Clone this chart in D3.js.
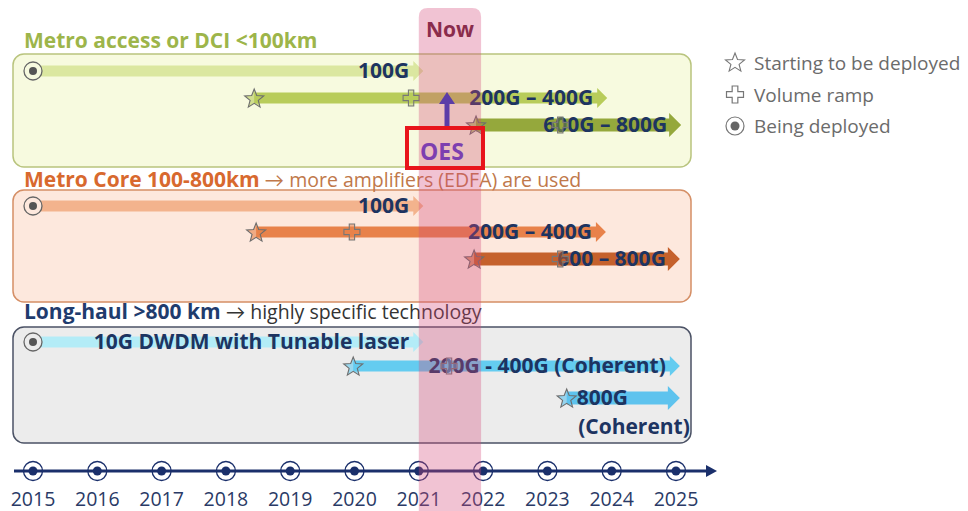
<!DOCTYPE html>
<html>
<head>
<meta charset="utf-8">
<script src="https://cdn.jsdelivr.net/npm/d3@7"></script>
<style>
  body { margin: 0; background: #fff; }
  svg { font-family: "Open Sans", Lato, sans-serif; }
</style>
</head>
<body>
<script>
var years = [2015, 2016, 2017, 2018, 2019, 2020, 2021, 2022, 2023, 2024, 2025];

var panelTitles = ["Metro access or DCI <100km", "Metro Core 100-800km", "Long-haul >800 km"];
var panelNotes = ["", " \u2192 more amplifiers (EDFA) are used", " \u2192 highly specific technology"];

var trackPanel  = [0, 0, 0, 1, 1, 1, 2, 2, 2];
var trackStart  = [2015, 2018.44, 2021.89, 2015, 2018.47, 2021.86, 2015, 2019.98, 2023.3];
var trackEnd    = [2021.07, 2023.93, 2025.08, 2021.07, 2023.91, 2025.06, 2021.07, 2025.06, 2025.06];
var trackBegin  = ["circle", "star", "star", "circle", "star", "star", "circle", "star", "star"];
var trackRamp   = [null, 2020.88, 2023.2, null, 2019.96, 2023.2, null, 2021.47, null];
var trackLabels = ["100G", "200G \u2013 400G", "600G \u2013 800G",
                   "100G", "200G \u2013 400G", "600 \u2013 800G",
                   "10G DWDM with Tunable laser", "200G - 400G (Coherent)", "800G|(Coherent)"];

var nowStart = 2021, nowEnd = 2022;
var legendItems = ["Starting to be deployed", "Volume ramp", "Being deployed"];

//layout
var width = 968, height = 511;

var svg = d3.select("body").append("svg")
    .attr("width", width)
    .attr("height", height);

var x = d3.scaleLinear().domain([2015, 2025]).range([33, 676]);

var panelBox = [{y: 54, h: 113}, {y: 190, h: 112}, {y: 327, h: 116}];
var panelTitleY = [48, 187, 319];
var panelFill = ["#f7fadf", "#fde8dd", "#ececec"];
var panelStroke = ["#b9c47e", "#d58f66", "#4b5265"];
var titleColor = ["#9db54a", "#d8692e", "#1f3c6e"];
var noteColor = ["#9db54a", "#c0784a", "#333"];
var rowY = [71, 98, 125, 206, 232, 259, 342, 366, 398];
var barColor = ["#dbe7a0", "#b8cc5a", "#95a83c", "#f3b38d", "#e8824a", "#c5612c", "#b3ecf7", "#64ccf0", "#5ec3ee"];

//panels
svg.selectAll(".panel")
    .data(panelBox)
    .enter()
    .append("rect")
    .attr("class", "panel")
    .attr("x", 13)
    .attr("y", function(d){ return d.y; })
    .attr("width", 678)
    .attr("height", function(d){ return d.h; })
    .attr("rx", 11)
    .attr("fill", function(d, i){ return panelFill[i]; })
    .attr("stroke", function(d, i){ return panelStroke[i]; })
    .attr("stroke-width", 1.5);

var titles = svg.selectAll(".ptitle")
    .data(panelTitles)
    .enter()
    .append("text")
    .attr("class", "ptitle")
    .attr("x", 24)
    .attr("y", function(d, i){ return panelTitleY[i]; });
titles.append("tspan")
    .attr("font-size", 21)
    .attr("font-weight", "bold")
    .attr("fill", function(d, i){ return titleColor[i]; })
    .text(function(d){ return d; });
titles.append("tspan")
    .attr("font-size", 19.5)
    .attr("fill", function(d, i){ return noteColor[i]; })
    .text(function(d, i){ return panelNotes[i]; });

//arrow shape: bar + head
function arrowPath(x0, x1, y, bh, hh, hl){
    return "M" + x0 + "," + (y - bh/2) +
        "L" + (x1 - hl) + "," + (y - bh/2) +
        "L" + (x1 - hl) + "," + (y - hh/2) +
        "L" + x1 + "," + y +
        "L" + (x1 - hl) + "," + (y + hh/2) +
        "L" + (x1 - hl) + "," + (y + bh/2) +
        "L" + x0 + "," + (y + bh/2) + "Z";
}

function starPath(r, r2){
    var pts = [];
    for (var k = 0; k < 10; k++){
        var a = -Math.PI/2 + k*Math.PI/5;
        var rr = k % 2 ? r2 : r;
        pts.push([rr*Math.cos(a), rr*Math.sin(a)]);
    }
    return "M" + pts.join("L") + "Z";
}

function crossPath(s){
    var a = s/2, b = s/6;
    return "M" + [[-b,-a],[b,-a],[b,-b],[a,-b],[a,b],[b,b],[b,a],[-b,a],[-b,b],[-a,b],[-a,-b],[-b,-b]].join("L") + "Z";
}

var idx = d3.range(trackPanel.length);

var tracks = svg.selectAll(".track")
    .data(idx)
    .enter()
    .append("g")
    .attr("class", "track");

tracks.append("path")
    .attr("d", function(i){
        var big = i % 3 == 2;
        return arrowPath(x(trackStart[i]), x(trackEnd[i]), rowY[i], big ? 13 : 11, big ? 24 : 20, big ? 12 : 10);
    })
    .attr("fill", function(i){ return barColor[i]; });

//markers at start
tracks.filter(function(i){ return trackBegin[i] == "star"; })
    .append("path")
    .attr("transform", function(i){ return "translate(" + x(trackStart[i]) + "," + (rowY[i] + 1) + ")"; })
    .attr("d", starPath(10, 4.3))
    .attr("fill", function(i){ return barColor[i]; })
    .attr("fill-opacity", 0.6)
    .attr("stroke", "#6d6d6d")
    .attr("stroke-width", 1.1);

var circ = tracks.filter(function(i){ return trackBegin[i] == "circle"; });
circ.append("circle")
    .attr("cx", function(i){ return x(trackStart[i]); })
    .attr("cy", function(i){ return rowY[i]; })
    .attr("r", 9)
    .attr("fill", function(i){ return panelFill[trackPanel[i]]; })
    .attr("stroke", "#666")
    .attr("stroke-width", 1.3);
circ.append("circle")
    .attr("cx", function(i){ return x(trackStart[i]); })
    .attr("cy", function(i){ return rowY[i]; })
    .attr("r", 4)
    .attr("fill", "#555");

//labels
tracks.each(function(i){
    var g = d3.select(this);
    var parts = trackLabels[i].split("|");
    if (parts.length > 1){
        g.append("text")
            .attr("x", x(trackStart[i]) + 10)
            .attr("y", rowY[i] + 7)
            .attr("font-size", 21)
            .attr("font-weight", "bold")
            .attr("fill", "#1d3461")
            .text(parts[0]);
        g.append("text")
            .attr("x", x(trackEnd[i]) + 10)
            .attr("y", rowY[i] + 36)
            .attr("text-anchor", "end")
            .attr("font-size", 21)
            .attr("font-weight", "bold")
            .attr("fill", "#1d3461")
            .text(parts[1]);
    } else {
        g.append("text")
            .attr("x", x(trackEnd[i]) - 14)
            .attr("y", rowY[i] + 7)
            .attr("text-anchor", "end")
            .attr("font-size", 21)
            .attr("font-weight", "bold")
            .attr("fill", "#1d3461")
            .text(parts[0]);
    }
});

//volume ramp markers
tracks.filter(function(i){ return trackRamp[i] != null; })
    .append("path")
    .attr("transform", function(i){ return "translate(" + x(trackRamp[i]) + "," + rowY[i] + ")"; })
    .attr("d", crossPath(16))
    .attr("fill", function(i){ return barColor[i]; })
    .attr("fill-opacity", 0.5)
    .attr("stroke", "#777")
    .attr("stroke-width", 1.1);

//timeline axis
var axisY = 471;
svg.append("line")
    .attr("x1", 14).attr("x2", 708)
    .attr("y1", axisY).attr("y2", axisY)
    .attr("stroke", "#1a2f6b")
    .attr("stroke-width", 3);
svg.append("path")
    .attr("d", "M706," + (axisY - 6) + "L717," + axisY + "L706," + (axisY + 6) + "Z")
    .attr("fill", "#1a2f6b");

var ticks = svg.selectAll(".tick")
    .data(years)
    .enter()
    .append("g")
    .attr("class", "tick")
    .attr("transform", function(d){ return "translate(" + x(d) + "," + axisY + ")"; });
ticks.append("circle")
    .attr("r", 9.5)
    .attr("fill", "none")
    .attr("stroke", "#1a2f6b")
    .attr("stroke-width", 1.3);
ticks.append("circle")
    .attr("r", 4.5)
    .attr("fill", "#1a2f6b");
ticks.append("text")
    .attr("y", 35)
    .attr("text-anchor", "middle")
    .attr("font-size", 19.5)
    .attr("fill", "#2a3a66")
    .text(function(d){ return d; });

//"Now" band
var bx0 = x(nowStart), bx1 = x(nowEnd) - 2, by = 8, br = 9;
svg.append("path")
    .attr("d", "M" + bx0 + "," + height + "L" + bx0 + "," + (by + br) +
        "Q" + bx0 + "," + by + " " + (bx0 + br) + "," + by +
        "L" + (bx1 - br) + "," + by +
        "Q" + bx1 + "," + by + " " + bx1 + "," + (by + br) +
        "L" + bx1 + "," + height + "Z")
    .attr("fill", "#d4497a")
    .attr("fill-opacity", 0.33);
svg.append("text")
    .attr("x", (bx0 + bx1) / 2)
    .attr("y", 37)
    .attr("text-anchor", "middle")
    .attr("font-size", 21)
    .attr("font-weight", "bold")
    .attr("fill", "#8a2c4c")
    .text("Now");

//OES callout
svg.append("line")
    .attr("x1", 447).attr("x2", 447)
    .attr("y1", 126).attr("y2", 102)
    .attr("stroke", "#5b3da8")
    .attr("stroke-width", 5);
svg.append("path")
    .attr("d", "M439,104L447,92L455,104Z")
    .attr("fill", "#5b3da8");
svg.append("rect")
    .attr("x", 407).attr("y", 128)
    .attr("width", 76).attr("height", 40)
    .attr("fill", "none")
    .attr("stroke", "#e8141b")
    .attr("stroke-width", 4);
svg.append("text")
    .attr("x", 442)
    .attr("y", 160)
    .attr("text-anchor", "middle")
    .attr("font-size", 23)
    .attr("font-weight", "bold")
    .attr("fill", "#7d3fb0")
    .text("OES");

//legend
var legend = svg.selectAll(".legend")
    .data(legendItems)
    .enter()
    .append("g")
    .attr("class", "legend")
    .attr("transform", function(d, i){ return "translate(735," + (63 + i*31.5) + ")"; });
legend.append("text")
    .attr("x", 19)
    .attr("y", 7)
    .attr("font-size", 19)
    .attr("fill", "#6b6b6b")
    .text(function(d){ return d; });
legend.filter(function(d, i){ return i == 0; }).append("path")
    .attr("d", starPath(10, 4.3)).attr("fill", "none").attr("stroke", "#777").attr("stroke-width", 1.1);
legend.filter(function(d, i){ return i == 1; }).append("path")
    .attr("d", crossPath(17)).attr("fill", "none").attr("stroke", "#777").attr("stroke-width", 1.2);
var lc = legend.filter(function(d, i){ return i == 2; });
lc.append("circle").attr("r", 9).attr("fill", "none").attr("stroke", "#777").attr("stroke-width", 1.2);
lc.append("circle").attr("r", 4.5).attr("fill", "#666");
</script>
</body>
</html>
